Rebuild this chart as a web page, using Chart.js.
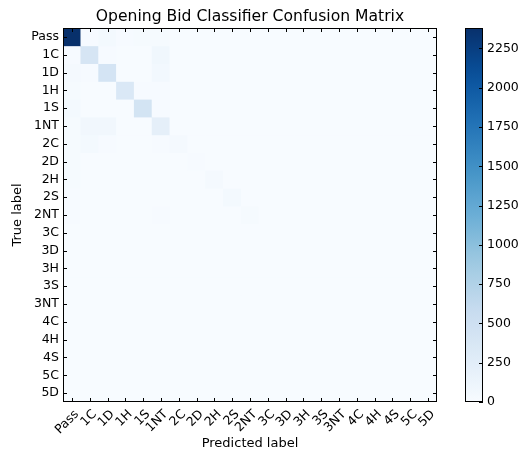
<!DOCTYPE html>
<html>
<head>
<meta charset="utf-8">
<script src="https://cdn.jsdelivr.net/npm/chart.js@4"></script>
<style>
  body { margin: 0; background: #fff; }
  #wrap { position: relative; width: 520px; height: 451px; }
  #matrix { position: absolute; left: 0; top: 0; }
  #cbar { position: absolute; left: 455px; top: 0; }
</style>
</head>
<body>
<div id="wrap">
  <canvas id="matrix" width="455" height="451"></canvas>
  <canvas id="cbar" width="65" height="451"></canvas>
</div>
<script>
// bid classes (same order on both axes)
const bids = ['Pass', '1C', '1D', '1H', '1S', '1NT', '2C', '2D', '2H', '2S', '2NT',
  '3C', '3D', '3H', '3S', '3NT', '4C', '4H', '4S', '5C', '5D'];

// rows = true label, columns = predicted label
const counts = [
  [2380, 15, 45, 10, 20, 25, 5, 5, 5, 5, 3, 0, 0, 0, 0, 0, 0, 0, 0, 0, 0],
  [15, 400, 10, 5, 5, 80, 5, 0, 0, 0, 0, 0, 0, 0, 0, 0, 0, 0, 0, 0, 0],
  [35, 10, 420, 5, 5, 55, 5, 0, 0, 0, 0, 0, 0, 0, 0, 0, 0, 0, 0, 0, 0],
  [20, 5, 5, 350, 10, 15, 0, 0, 0, 0, 0, 0, 0, 0, 0, 0, 0, 0, 0, 0, 0],
  [45, 5, 5, 5, 430, 15, 0, 0, 0, 0, 0, 0, 0, 0, 0, 0, 0, 0, 0, 0, 0],
  [20, 70, 70, 5, 5, 215, 5, 0, 0, 0, 0, 0, 0, 0, 0, 0, 0, 0, 0, 0, 0],
  [25, 45, 10, 0, 0, 10, 40, 0, 0, 0, 0, 0, 0, 0, 0, 0, 0, 0, 0, 0, 0],
  [25, 5, 5, 0, 0, 5, 0, 10, 0, 0, 0, 0, 0, 0, 0, 0, 0, 0, 0, 0, 0],
  [25, 0, 0, 5, 0, 5, 0, 0, 35, 0, 0, 0, 0, 0, 0, 0, 0, 0, 0, 0, 0],
  [15, 0, 0, 0, 5, 5, 0, 0, 0, 45, 0, 0, 0, 0, 0, 0, 0, 0, 0, 0, 0],
  [10, 0, 0, 0, 0, 10, 0, 0, 0, 0, 25, 0, 0, 0, 0, 0, 0, 0, 0, 0, 0],
  [5, 0, 0, 0, 0, 0, 0, 0, 0, 0, 0, 3, 0, 0, 0, 0, 0, 0, 0, 0, 0],
  [5, 0, 0, 0, 0, 0, 0, 0, 0, 0, 0, 0, 3, 0, 0, 0, 0, 0, 0, 0, 0],
  [5, 0, 0, 0, 0, 0, 0, 0, 0, 0, 0, 0, 0, 3, 0, 0, 0, 0, 0, 0, 0],
  [5, 0, 0, 0, 0, 0, 0, 0, 0, 0, 0, 0, 0, 0, 3, 0, 0, 0, 0, 0, 0],
  [3, 0, 0, 0, 0, 0, 0, 0, 0, 0, 0, 0, 0, 0, 0, 2, 0, 0, 0, 0, 0],
  [2, 0, 0, 0, 0, 0, 0, 0, 0, 0, 0, 0, 0, 0, 0, 0, 1, 0, 0, 0, 0],
  [2, 0, 0, 0, 0, 0, 0, 0, 0, 0, 0, 0, 0, 0, 0, 0, 0, 1, 0, 0, 0],
  [2, 0, 0, 0, 0, 0, 0, 0, 0, 0, 0, 0, 0, 0, 0, 0, 0, 0, 1, 0, 0],
  [1, 0, 0, 0, 0, 0, 0, 0, 0, 0, 0, 0, 0, 0, 0, 0, 0, 0, 0, 0, 0],
  [1, 0, 0, 0, 0, 0, 0, 0, 0, 0, 0, 0, 0, 0, 0, 0, 0, 0, 0, 0, 0]
];

const cbarTicks = [0, 250, 500, 750, 1000, 1250, 1500, 1750, 2000, 2250];

const vmax = Math.max(...counts.flat());

// matplotlib "Blues"
const bluesStops = ['#f7fbff', '#deebf7', '#c6dbef', '#9ecae1', '#6baed6',
  '#4292c6', '#2171b5', '#08519c', '#08306b'];

function hexRgb(h) {
  return [1, 3, 5].map(i => parseInt(h.slice(i, i + 2), 16));
}

function blues(t) {
  t = Math.min(1, Math.max(0, t));
  const pos = t * (bluesStops.length - 1);
  const i = Math.min(bluesStops.length - 2, Math.floor(pos));
  const f = pos - i;
  const a = hexRgb(bluesStops[i]), b = hexRgb(bluesStops[i + 1]);
  const c = a.map((v, k) => Math.round(v + (b[k] - v) * f));
  return `rgb(${c[0]},${c[1]},${c[2]})`;
}

const tickFont = { family: 'DejaVu Sans', size: 12.5 };
const labelFont = { family: 'DejaVu Sans', size: 13 };

// frame + inward tick marks, like matplotlib
const framePlugin = {
  id: 'frame',
  beforeDatasetsDraw(chart) {
    const { ctx, chartArea: a } = chart;
    if (chart.canvas.id === 'matrix') {
      ctx.save();
      ctx.fillStyle = blues(0);
      ctx.fillRect(a.left, a.top, a.right - a.left, a.bottom - a.top);
      ctx.restore();
    }
  },
  afterDraw(chart) {
    const { ctx, chartArea: a } = chart;
    ctx.save();
    ctx.strokeStyle = '#000';
    ctx.lineWidth = 1;
    ctx.beginPath();
    const x = chart.scales.x, y = chart.scales.y;
    if (x && x.options.display) {
      x.ticks.forEach((t, i) => {
        const px = Math.round(x.getPixelForTick(i)) + 0.5;
        ctx.moveTo(px, a.bottom); ctx.lineTo(px, a.bottom - 4);
        ctx.moveTo(px, a.top); ctx.lineTo(px, a.top + 4);
      });
    }
    y.ticks.forEach(t => {
      const py = Math.round(y.getPixelForValue(t.value)) + 0.5;
      if (chart.canvas.id === 'matrix') {
        ctx.moveTo(a.left, py); ctx.lineTo(a.left + 4, py);
      }
      ctx.moveTo(a.right, py); ctx.lineTo(a.right - 4, py);
    });
    ctx.stroke();
    ctx.strokeRect(Math.round(a.left) + 0.5, Math.round(a.top) + 0.5,
      Math.round(a.right - a.left) - 1, Math.round(a.bottom - a.top) - 1);
    ctx.restore();
  }
};

// one floating-bar dataset per true-label row
const rowSets = counts.map((row, r) => ({
  label: bids[r],
  data: row.map(() => [r - 0.5, r + 0.5]),
  backgroundColor: row.map(v => blues(v / vmax)),
  borderWidth: 0,
  grouped: false,
  categoryPercentage: 1,
  barPercentage: 1
}));

new Chart(document.getElementById('matrix'), {
  type: 'bar',
  data: { labels: bids, datasets: rowSets },
  options: {
    responsive: false,
    animation: false,
    events: [],
    layout: { padding: { left: 6, right: 18, top: 0, bottom: 0 } },
    plugins: {
      legend: { display: false },
      tooltip: { enabled: false },
      title: {
        display: true,
        text: 'Opening Bid Classifier Confusion Matrix',
        color: '#000',
        font: { family: 'DejaVu Sans', size: 15.6, weight: 'normal' },
        fullSize: false,
        padding: { top: 8, bottom: 1.3 }
      }
    },
    scales: {
      x: {
        type: 'category',
        offset: true,
        grid: { display: false, drawTicks: false },
        border: { display: false },
        ticks: { color: '#000', font: tickFont, minRotation: 45, maxRotation: 45, padding: 5, labelOffset: 5, autoSkip: false },
        title: { display: true, text: 'Predicted label', color: '#000', font: labelFont, padding: { top: 0, bottom: 0 } },
        afterFit(s) { s.height = 49; }
      },
      y: {
        type: 'linear',
        reverse: true,
        min: -0.5,
        max: bids.length - 0.5,
        grid: { display: false, drawTicks: false },
        border: { display: false },
        afterBuildTicks(s) { s.ticks = bids.map((b, i) => ({ value: i })); },
        ticks: { color: '#000', font: tickFont, padding: 4, callback: v => bids[v] },
        title: { display: true, text: 'True label', color: '#000', font: labelFont, padding: { top: 4, bottom: 0 } },
        afterFit(s) { s.width = 57; }
      }
    }
  },
  plugins: [framePlugin]
});

// colour bar: one floating bar spanning 0..vmax, filled with the colormap
new Chart(document.getElementById('cbar'), {
  type: 'bar',
  data: {
    labels: [''],
    datasets: [{
      data: [[0, vmax]],
      borderWidth: 0,
      categoryPercentage: 1,
      barPercentage: 1,
      backgroundColor(c) {
        const area = c.chart.chartArea;
        if (!area) return blues(0.5);
        const g = c.chart.ctx.createLinearGradient(0, area.bottom, 0, area.top);
        for (let i = 0; i <= 20; i++) g.addColorStop(i / 20, blues(i / 20));
        return g;
      }
    }]
  },
  options: {
    responsive: false,
    animation: false,
    events: [],
    layout: { padding: { left: 10, right: 0, top: 28, bottom: 49 } },
    plugins: { legend: { display: false }, tooltip: { enabled: false } },
    scales: {
      x: { display: false },
      y: {
        position: 'right',
        min: 0,
        max: vmax,
        grid: { display: false, drawTicks: false },
        border: { display: false },
        afterBuildTicks(s) { s.ticks = cbarTicks.map(v => ({ value: v })); },
        ticks: { color: '#000', font: tickFont, padding: 4, callback: v => String(v) },
        afterFit(s) { s.width = 37; }
      }
    }
  },
  plugins: [framePlugin]
});
</script>
</body>
</html>
